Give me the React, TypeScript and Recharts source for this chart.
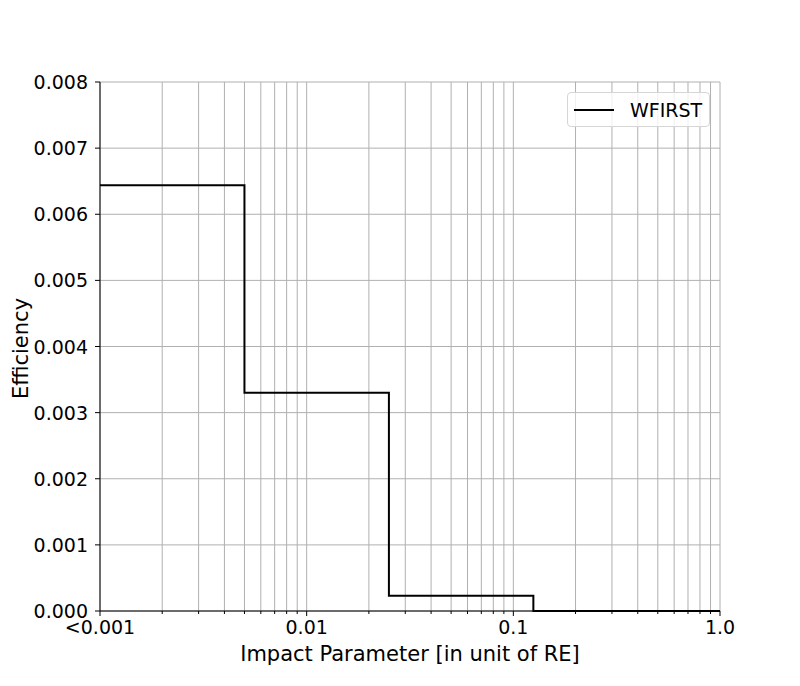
import { ComposedChart, Line, XAxis, YAxis, CartesianGrid } from 'recharts'

// bin edges of impact parameter (RE units) and efficiency per bin
const binEdges = [0.001, 0.005, 0.025, 0.125, 1.0]
const efficiency = [0.00644, 0.0033, 0.00023, 0.0, 0.0]

const majorTicks = [0.001, 0.01, 0.1, 1.0]
const majorLabels = ['<0.001', '0.01', '0.1', '1.0']
const minorTicks = [
  0.002, 0.003, 0.004, 0.005, 0.006, 0.007, 0.008, 0.009,
  0.02, 0.03, 0.04, 0.05, 0.06, 0.07, 0.08, 0.09,
  0.2, 0.3, 0.4, 0.5, 0.6, 0.7, 0.8, 0.9,
]
const yTicks = [0, 0.001, 0.002, 0.003, 0.004, 0.005, 0.006, 0.007, 0.008]

const data = binEdges.map((x, i) => ({ x, eff: efficiency[i] }))
const xTicks = [...majorTicks, ...minorTicks].sort((a, b) => a - b)

const FONT = '"DejaVu Sans", sans-serif'

function XTick(props: any) {
  const { x, y, payload } = props
  const idx = majorTicks.findIndex(t => Math.abs(t - payload.value) < 1e-9)
  const major = idx >= 0
  return (
    <g>
      <line x1={x} x2={x} y1={y} y2={y + (major ? 5 : 3)} stroke="#000" strokeWidth={1} />
      {major && (
        <text x={x} y={y + 23} textAnchor="middle" fontSize={19} fontFamily={FONT} fill="#000">
          {majorLabels[idx]}
        </text>
      )}
    </g>
  )
}

function YTick(props: any) {
  const { x, y, payload } = props
  return (
    <g>
      <line x1={x - 5} x2={x} y1={y} y2={y} stroke="#000" strokeWidth={1} />
      <text x={x - 12} y={y + 7} textAnchor="end" fontSize={19} fontFamily={FONT} fill="#000">
        {payload.value.toFixed(3)}
      </text>
    </g>
  )
}

function XLabel(props: any) {
  const { viewBox } = props
  const cx = viewBox.x + viewBox.width / 2
  return (
    <text x={cx} y={viewBox.y + 50} textAnchor="middle" fontSize={21} fontFamily={FONT} fill="#000">
      Impact Parameter [in unit of RE]
    </text>
  )
}

function YLabel(props: any) {
  const { viewBox } = props
  const cy = viewBox.y + viewBox.height / 2 + 2
  return (
    <text x={28} y={cy} transform={`rotate(-90 28 ${cy})`} textAnchor="middle" fontSize={21} fontFamily={FONT} fill="#000">
      Efficiency
    </text>
  )
}

export default function App() {
  return (
    <div style={{ position: 'absolute', left: 0, top: 0, width: 800, height: 686, background: '#fff' }}>
      <ComposedChart width={800} height={686} data={data} margin={{ top: 82, right: 80, bottom: 0, left: 0 }}>
        <CartesianGrid stroke="#b0b0b0" strokeWidth={1} />
        <XAxis
          dataKey="x"
          type="number"
          scale="log"
          domain={[0.001, 1]}
          ticks={xTicks}
          interval={0}
          height={75}
          tickSize={0}
          tickMargin={0}
          tickLine={false}
          tick={<XTick />}
          axisLine={{ stroke: '#000', strokeWidth: 1 }}
          allowDataOverflow
          label={<XLabel />}
        />
        <XAxis xAxisId="top" orientation="top" dataKey="x" type="number" scale="log" domain={[0.001, 1]} height={0} tick={false} tickLine={false} axisLine={{ stroke: '#000' }} />
        <YAxis
          type="number"
          domain={[0, 0.008]}
          ticks={yTicks}
          interval={0}
          width={100}
          tickSize={0}
          tickMargin={0}
          tickLine={false}
          tick={<YTick />}
          axisLine={{ stroke: '#000', strokeWidth: 1 }}
          label={<YLabel />}
        />
        <YAxis yAxisId="right" orientation="right" domain={[0, 0.008]} width={0} tick={false} tickLine={false} axisLine={{ stroke: '#000' }} />
        <Line
          dataKey="eff"
          type="stepAfter"
          stroke="#000"
          strokeWidth={2}
          dot={false}
          isAnimationActive={false}
        />
      </ComposedChart>
      <div
        style={{
          position: 'absolute',
          left: 567,
          top: 92,
          width: 143,
          height: 35,
          border: '1px solid #d6d6d6',
          borderRadius: 4,
          background: 'rgba(255,255,255,0.8)',
          display: 'flex',
          alignItems: 'center',
          fontFamily: FONT,
          fontSize: 19,
          boxSizing: 'border-box',
        }}
      >
        <div style={{ width: 40, height: 2, background: '#000', marginLeft: 6, marginRight: 16 }} />
        <span>WFIRST</span>
      </div>
    </div>
  )
}
